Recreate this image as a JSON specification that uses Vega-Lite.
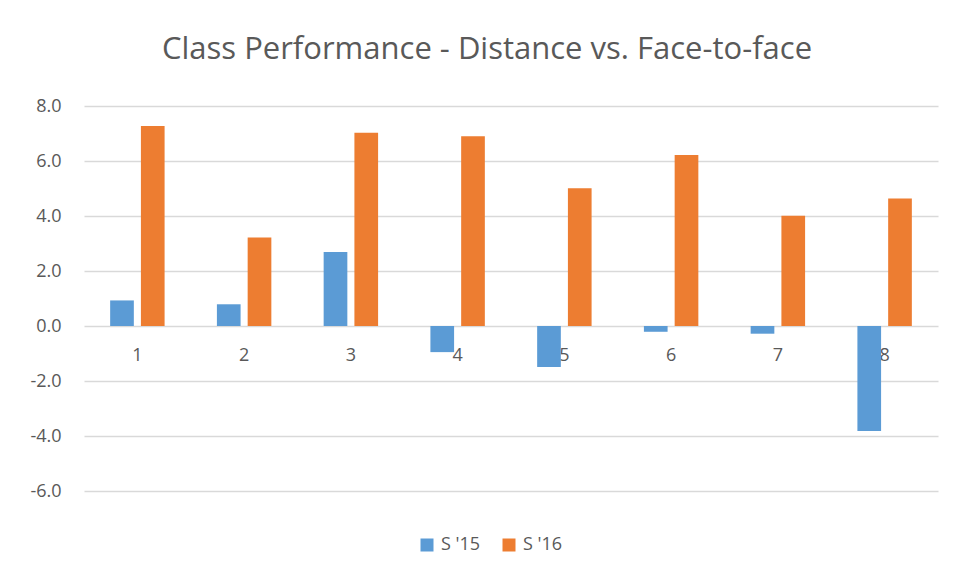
{
  "$schema": "https://vega.github.io/schema/vega-lite/v6.json",
  "width": 854,
  "height": 385,
  "autosize": {"type": "none"},
  "padding": {"left": 84, "top": 106, "right": 18, "bottom": 84},
  "background": "white",
  "title": {
    "text": "Class Performance - Distance vs. Face-to-face",
    "fontSize": 31,
    "font": "Open Sans",
    "fontWeight": "normal",
    "color": "#595959",
    "anchor": "middle",
    "dx": -24,
    "baseline": "alphabetic",
    "offset": 7
  },
  "data": {
    "values": [
      {"class": "1", "series": "S '15", "value": 0.93},
      {"class": "2", "series": "S '15", "value": 0.79},
      {"class": "3", "series": "S '15", "value": 2.69},
      {"class": "4", "series": "S '15", "value": -0.95},
      {"class": "5", "series": "S '15", "value": -1.49},
      {"class": "6", "series": "S '15", "value": -0.21},
      {"class": "7", "series": "S '15", "value": -0.28},
      {"class": "8", "series": "S '15", "value": -3.82},
      {"class": "1", "series": "S '16", "value": 7.27},
      {"class": "2", "series": "S '16", "value": 3.22},
      {"class": "3", "series": "S '16", "value": 7.03},
      {"class": "4", "series": "S '16", "value": 6.9},
      {"class": "5", "series": "S '16", "value": 5.01},
      {"class": "6", "series": "S '16", "value": 6.22},
      {"class": "7", "series": "S '16", "value": 4.01},
      {"class": "8", "series": "S '16", "value": 4.64}
    ]
  },
  "mark": {"type": "bar"},
  "encoding": {
    "x": {
      "field": "class",
      "type": "ordinal",
      "scale": {"paddingInner": 0.49, "paddingOuter": 0.245},
      "axis": {
        "title": null,
        "labelAngle": 0,
        "labelFont": "Open Sans",
        "labelFontSize": 18,
        "labelColor": "#595959",
        "ticks": false,
        "domain": false,
        "offset": -165,
        "labelPadding": 20
      }
    },
    "xOffset": {
      "field": "series",
      "type": "nominal",
      "scale": {"paddingInner": 0.23, "paddingOuter": 0}
    },
    "y": {
      "field": "value",
      "type": "quantitative",
      "scale": {"domain": [-6, 8], "nice": false, "zero": false},
      "axis": {
        "title": null,
        "values": [-6, -4, -2, 0, 2, 4, 6, 8],
        "format": ".1f",
        "labelExpr": "replace(datum.label, '−', '-')",
        "labelFont": "Open Sans",
        "labelFontSize": 18,
        "labelColor": "#595959",
        "ticks": false,
        "domain": false,
        "labelPadding": 23,
        "gridColor": "#d9d9d9",
        "gridWidth": 1.3
      }
    },
    "color": {
      "field": "series",
      "type": "nominal",
      "scale": {"domain": ["S '15", "S '16"], "range": ["#5B9BD5", "#ED7D31"]},
      "legend": {
        "title": null,
        "orient": "none",
        "direction": "horizontal",
        "legendX": 334,
        "legendY": 430,
        "symbolType": "square",
        "symbolSize": 169,
        "symbolStrokeWidth": 0,
        "labelFont": "Open Sans",
        "labelFontSize": 18,
        "labelColor": "#595959",
        "labelOffset": 5,
        "columnPadding": 19
      }
    }
  },
  "config": {"view": {"stroke": null}}
}
